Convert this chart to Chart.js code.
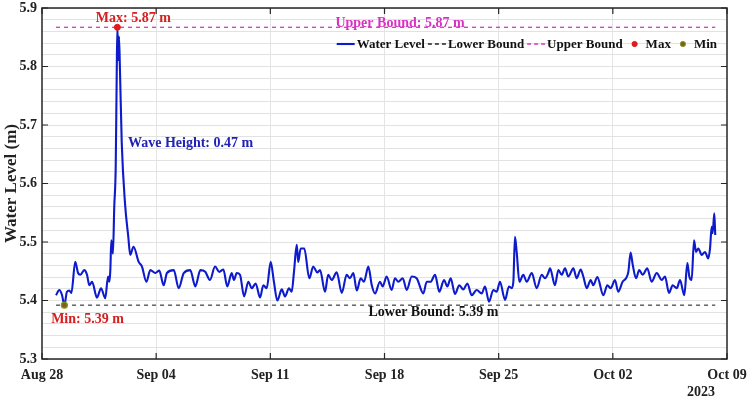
<!DOCTYPE html>
<html><head><meta charset="utf-8">
<script src="https://cdn.jsdelivr.net/npm/chart.js@4"></script>
<style>html,body{margin:0;padding:0;background:#fff}#wrap{width:749px;height:400px}</style>
</head><body><div id="wrap"><canvas id="c" width="749" height="400"></canvas></div>
<script>
// ---- DATA ----
// time in days since Aug 28 2023 00:00
const dayOffsets = [0.86,1.06,1.23,1.37,1.53,1.67,1.80,2.04,2.21,2.35,2.59,2.76,2.90,3.07,3.37,3.62,3.88,4.05,4.13,4.19,4.25,4.35,4.43,4.52,4.58,4.62,4.68,4.72,4.78,4.89,5.09,5.29,5.41,5.61,5.93,6.13,6.40,6.64,6.95,7.19,7.46,7.66,8.08,8.38,8.69,9.09,9.40,9.71,10.01,10.30,10.61,10.87,11.12,11.36,11.63,11.77,11.94,12.14,12.39,12.65,12.86,13.10,13.37,13.57,13.78,14.02,14.22,14.43,14.70,14.90,15.14,15.31,15.45,15.62,15.71,15.86,16.08,16.39,16.63,16.88,17.05,17.35,17.55,17.76,18.07,18.38,18.68,18.88,19.09,19.30,19.54,19.74,20.01,20.22,20.42,20.72,20.89,21.13,21.44,21.64,21.85,22.12,22.36,22.67,22.97,23.38,23.59,23.83,24.10,24.36,24.65,24.85,25.06,25.32,25.59,25.83,26.08,26.35,26.65,26.96,27.16,27.41,27.67,27.88,28.08,28.39,28.63,28.80,28.90,29.00,29.11,29.27,29.51,29.72,30.03,30.33,30.64,30.84,31.04,31.15,31.45,31.66,31.86,32.07,32.27,32.58,32.78,33.03,33.19,33.40,33.64,33.80,34.05,34.42,34.66,34.87,35.13,35.33,35.60,35.81,35.95,36.09,36.22,36.42,36.62,36.83,37.11,37.38,37.69,38.00,38.20,38.44,38.67,38.92,39.12,39.38,39.57,39.69,39.83,39.98,40.10,40.24,40.45,40.65,40.85,40.96,41.06,41.12,41.22,41.28];
const waterLevel = [5.409,5.418,5.409,5.392,5.415,5.417,5.413,5.466,5.447,5.444,5.452,5.444,5.426,5.432,5.405,5.421,5.404,5.441,5.432,5.452,5.503,5.480,5.560,5.629,5.783,5.867,5.811,5.851,5.794,5.669,5.566,5.509,5.478,5.492,5.466,5.458,5.432,5.452,5.447,5.451,5.426,5.447,5.452,5.421,5.447,5.452,5.424,5.452,5.449,5.435,5.458,5.449,5.453,5.424,5.447,5.435,5.447,5.444,5.407,5.432,5.421,5.429,5.405,5.426,5.421,5.466,5.432,5.400,5.419,5.407,5.421,5.415,5.449,5.495,5.466,5.489,5.489,5.438,5.458,5.448,5.452,5.415,5.444,5.435,5.448,5.413,5.444,5.438,5.447,5.417,5.438,5.432,5.458,5.426,5.412,5.432,5.424,5.441,5.418,5.438,5.432,5.438,5.418,5.441,5.438,5.412,5.432,5.432,5.444,5.415,5.435,5.424,5.438,5.411,5.426,5.419,5.429,5.409,5.418,5.412,5.424,5.398,5.418,5.415,5.432,5.401,5.424,5.421,5.432,5.509,5.481,5.432,5.444,5.432,5.447,5.421,5.444,5.438,5.447,5.455,5.426,5.452,5.444,5.455,5.441,5.455,5.438,5.453,5.441,5.421,5.435,5.426,5.440,5.409,5.426,5.421,5.435,5.415,5.432,5.438,5.449,5.482,5.461,5.438,5.452,5.444,5.455,5.432,5.447,5.435,5.441,5.413,5.426,5.421,5.435,5.409,5.464,5.441,5.435,5.503,5.483,5.489,5.478,5.483,5.472,5.489,5.526,5.515,5.549,5.512];
const xTickLabels = ['Aug 28','Sep 04','Sep 11','Sep 18','Sep 25','Oct 02','Oct 09'];
const yearLabel = '2023';
const upperBound = 5.867;
const lowerBound = 5.392;
const maxDay = 4.62, maxValue = 5.867;
const minDay = 1.37, minValue = 5.392;
const seriesNames = ['Water Level','Lower Bound','Upper Bound','Max','Min'];
const maxText = 'Max: 5.87 m';
const minText = 'Min: 5.39 m';
const upperText = 'Upper Bound: 5.87 m';
const lowerText = 'Lower Bound: 5.39 m';
const waveText = 'Wave Height: 0.47 m';
const yTitle = 'Water Level (m)';

// ---- STYLE ----
const FONT = '"Liberation Serif","Times New Roman",serif';
const BLUE = '#0d1bcc', MAGENTA = '#d836c4', RED = '#e01b1b', GRAY = '#4a4a4a';
const annotations = [
  {text: maxText,   day: 5.6,  value: 5.882, color: '#d42020', align: 'center'},
  {text: upperText, day: 21.95,value: 5.874, color: '#d633c2', align: 'center'},
  {text: waveText,  day: 5.27, value: 5.669, color: '#1f22b4', align: 'left'},
  {text: minText,   day: 2.79, value: 5.367, color: '#d42020', align: 'center'},
  {text: lowerText, day: 24.0, value: 5.380, color: '#111111', align: 'center'}
];

const first = dayOffsets[0], last = dayOffsets[dayOffsets.length-1];

const deco = {
  id: 'deco',
  beforeDraw(chart){
    const c = chart.ctx; c.save(); c.fillStyle = '#fff'; c.fillRect(0,0,chart.width,chart.height); c.restore();
  },
  afterDraw(chart){
    const {ctx, chartArea: a, scales: {x, y}} = chart;
    ctx.save();
    // box
    ctx.strokeStyle = '#262626'; ctx.lineWidth = 1.5;
    ctx.strokeRect(a.left, a.top, a.right - a.left, a.bottom - a.top);
    // inward ticks
    ctx.lineWidth = 1.2; ctx.beginPath();
    x.ticks.forEach(t => { const px = x.getPixelForValue(t.value);
      ctx.moveTo(px, a.bottom); ctx.lineTo(px, a.bottom - 6);
      ctx.moveTo(px, a.top); ctx.lineTo(px, a.top + 6); });
    y.ticks.forEach(t => { if (!t.label) return; const py = y.getPixelForValue(t.value);
      ctx.moveTo(a.left, py); ctx.lineTo(a.left + 6, py);
      ctx.moveTo(a.right, py); ctx.lineTo(a.right - 6, py); });
    ctx.stroke();
    // annotations
    ctx.font = 'bold 14px ' + FONT; ctx.textBaseline = 'middle';
    annotations.forEach(an => {
      ctx.fillStyle = an.color; ctx.textAlign = an.align;
      ctx.fillText(an.text, x.getPixelForValue(an.day), y.getPixelForValue(an.value));
    });
    // year label
    ctx.fillStyle = '#222'; ctx.textAlign = 'center';
    ctx.fillText(yearLabel, x.getPixelForValue(40.4), a.bottom + 33);
    // legend
    ctx.font = 'bold 13px ' + FONT;
    const ds = chart.data.datasets;
    const sampleW = 18, gapST = 2, gapTS = 3;
    let total = 0;
    ds.forEach((d,i) => { total += sampleW + gapST + ctx.measureText(d.label).width + (i < ds.length-1 ? gapTS : 0); });
    let cx = a.right - 10 - total;
    const ly = a.top + 36;
    ctx.textAlign = 'left';
    ds.forEach(d => {
      if (d.isPoint) {
        ctx.beginPath(); ctx.arc(cx + sampleW/2, ly, 2.6, 0, Math.PI*2);
        ctx.fillStyle = d.backgroundColor; ctx.fill();
        ctx.lineWidth = 1; ctx.strokeStyle = d.borderColor; ctx.stroke();
      } else {
        ctx.beginPath(); ctx.setLineDash(d.borderDash ? [4,3] : []);
        ctx.strokeStyle = d.legendColor || d.borderColor; ctx.lineWidth = d.borderWidth;
        ctx.moveTo(cx, ly); ctx.lineTo(cx + sampleW, ly); ctx.stroke(); ctx.setLineDash([]);
      }
      cx += sampleW + gapST;
      ctx.fillStyle = '#111'; ctx.fillText(d.label, cx, ly + 1);
      cx += ctx.measureText(d.label).width + gapTS;
    });
    ctx.restore();
  }
};

new Chart(document.getElementById('c'), {
  type: 'line',
  data: {
    datasets: [
      {label: seriesNames[0], data: dayOffsets.map((d,i) => ({x: d, y: waterLevel[i]})),
       borderColor: BLUE, borderWidth: 2.1, pointRadius: 0, cubicInterpolationMode: 'monotone', order: 3},
      {label: seriesNames[1], data: [{x: first, y: lowerBound}, {x: last, y: lowerBound}], legendColor: '#222',
       borderColor: GRAY, borderWidth: 1.3, borderDash: [4,4], pointRadius: 0, order: 4},
      {label: seriesNames[2], data: [{x: first, y: upperBound}, {x: last, y: upperBound}],
       borderColor: MAGENTA, borderWidth: 1.3, borderDash: [4,4], pointRadius: 0, order: 4},
      {label: seriesNames[3], data: [{x: maxDay, y: maxValue}], isPoint: true, showLine: false,
       backgroundColor: RED, borderColor: RED, pointRadius: 3, pointBorderWidth: 1, order: 1},
      {label: seriesNames[4], data: [{x: minDay, y: minValue}], isPoint: true, showLine: false,
       backgroundColor: '#8a5a1a', borderColor: '#7a9a22', pointRadius: 3, pointBorderWidth: 1.2, order: 1}
    ]
  },
  options: {
    responsive: false, animation: false, devicePixelRatio: 1,
    layout: {padding: {top: 8, right: 22, bottom: 0, left: 0}},
    plugins: {legend: {display: false}, tooltip: {enabled: false}, title: {display: false}},
    scales: {
      x: {type: 'linear', min: 0, max: 42,
        afterFit: s => { s.height = 41; s.paddingLeft = 0; s.paddingRight = 0; },
        ticks: {stepSize: 7, autoSkip: false, maxRotation: 0, padding: 8, color: '#222',
          font: {family: FONT, size: 14, weight: 'bold'},
          callback: (v, i) => xTickLabels[i]},
        grid: {drawTicks: false, color: c => (c.index === 0 || c.index === 6) ? 'rgba(0,0,0,0)' : '#e4e4e4', lineWidth: 1},
        border: {display: false}},
      y: {type: 'linear', min: 5.3, max: 5.9,
        afterFit: s => { s.width = 42; s.paddingTop = 0; s.paddingBottom = 0; },
        title: {display: true, text: yTitle, color: '#222', font: {family: FONT, size: 17, weight: 'bold'}, padding: {top: 1, bottom: 0}},
        ticks: {stepSize: 0.02, autoSkip: false, padding: 5, color: '#222',
          font: {family: FONT, size: 14, weight: 'bold'},
          callback: v => { const r = Math.round(v * 50) / 50; return Math.abs(r * 10 - Math.round(r * 10)) < 1e-6 ? r.toFixed(1) : ''; }},
        grid: {drawTicks: false, color: '#e2e2e2', lineWidth: 1},
        border: {display: false}}
    }
  },
  plugins: [deco]
});
</script></body></html>
